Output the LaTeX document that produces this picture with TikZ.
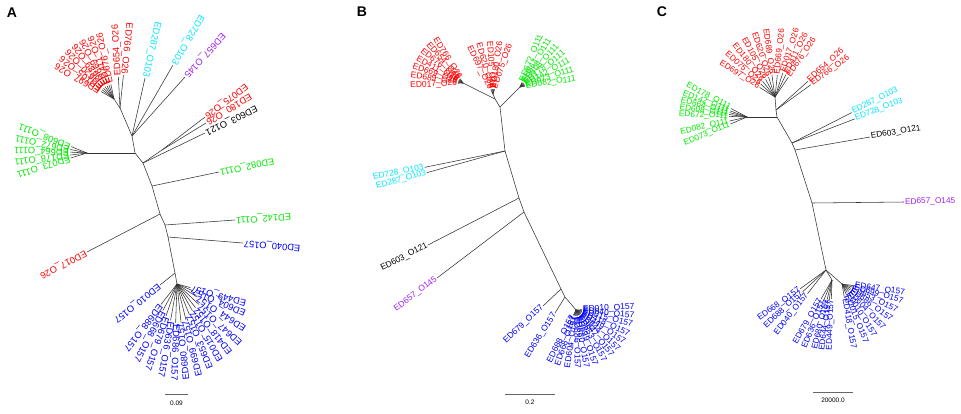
\documentclass[tikz,border=0pt]{standalone}
\usepackage{fontspec}
\setmainfont{Liberation Sans}
\usetikzlibrary{calc}
\definecolor{tred}{RGB}{255,0,0}
\definecolor{tgreen}{RGB}{0,235,0}
\definecolor{tblue}{RGB}{0,0,255}
\definecolor{tcyan}{RGB}{0,230,255}
\definecolor{tpurp}{RGB}{160,32,240}
\newif\ifinvlab
% #1 parent, #2 tip, #3 colour, #4 text
\newcommand\tiplab[4]{%
  \pgfpointdiff{\pgfpointanchor{#1}{center}}{\pgfpointanchor{#2}{center}}%
  \pgfgetlastxy{\tlX}{\tlY}%
  \pgfmathsetmacro\tlang{atan2(\tlY,\tlX)}%
  \pgfmathtruncatemacro\tlr{cos(\tlang)>0}%
  \ifinvlab\pgfmathtruncatemacro\tlr{1-\tlr}\fi
  \draw[br] (#1) -- (#2);
  \ifnum\tlr=1
    \node[lab,text=#3,anchor=west,rotate=\tlang] (L#2) at (#2) {#4};
  \else
    \node[lab,text=#3,anchor=east,rotate=\tlang+180] (L#2) at (#2) {#4};
  \fi}
% #1 parent, #2 tip name, #3 canvas angle, #4 length, #5 colour, #6 text
\newcommand\tipat[6]{%
  \coordinate (#2) at ($(#1)+({-1*(#3)}:#4)$);
  \tiplab{#1}{#2}{#5}{#6}}
\begin{document}
\begin{tikzpicture}[x=1pt,y=-1pt,
  br/.style={draw=black!80,line width=0.55pt},
  lab/.style={inner sep=0.8pt,font=\fontsize{9}{10}\selectfont},
  panel/.style={font=\fontsize{14}{16}\selectfont\bfseries,inner sep=0pt},
  sbar/.style={draw=black!60,line width=0.7pt},
  stxt/.style={font=\fontsize{6.5}{7}\selectfont,inner sep=0pt}]
\useasboundingbox[fill=white] (0,0) rectangle (961,413);

%================ Panel A ================
\invlabtrue
\tikzset{lab/.style={inner sep=0.9pt,font=\fontsize{9.3}{10}\selectfont}}
\node[panel] (pA) at (12,13) {A};
\coordinate (aR0) at (120,108);
\coordinate (aR1) at (114,99);
\coordinate (aB2) at (132,136);
\coordinate (aB3) at (135,153);
\coordinate (aB4) at (143,163);
\coordinate (aB5) at (152,186);
\coordinate (aB6) at (160,214);
\coordinate (aB7) at (165,225);
\coordinate (aB8) at (168,237);
\coordinate (aB9) at (175,273);
\coordinate (aB10) at (177,284);
\coordinate (aG0) at (87,153);
\coordinate (aS1) at (162,150);
\draw[br] (aR1)--(aR0)--(aB2)--(aB3)--(aB4)--(aB5)--(aB6)--(aB7)--(aB8)--(aB9)--(aB10);
\draw[br] (aB3)--(aG0);
\draw[br] (aB4)--(aS1);
\tipat{aR0}{a1}{84}{33}{tred}{ED766\_O26}
\tipat{aR0}{a2}{93}{31}{tred}{ED654\_O26}
\tipat{aR1}{a3}{102}{15}{tred}{ED676\_O26}
\tipat{aR1}{a4}{110}{15}{tred}{ED411\_O26}
\tipat{aR1}{a5}{118}{15}{tred}{ED669\_O26}
\tipat{aR1}{a6}{126}{15}{tred}{ED689\_O26}
\tipat{aR1}{a7}{134}{15}{tred}{ED620\_O26}
\tipat{aR1}{a8}{142}{15}{tred}{ED105\_O26}
\tipat{aR1}{a9}{150}{15}{tred}{ED697\_O26}
\coordinate (a10) at (145,78); \tiplab{aB2}{a10}{tcyan}{ED287\_O103}
\coordinate (a11) at (173,65); \tiplab{aB2}{a11}{tcyan}{ED728\_O103}
\coordinate (a12) at (185,77); \tiplab{aB2}{a12}{tpurp}{ED657\_O145}
\coordinate (a13) at (205,117); \tiplab{aS1}{a13}{tred}{ED075\_O26}
\coordinate (a14) at (206,123); \tiplab{aS1}{a14}{tred}{ED180\_O26}
\coordinate (a15) at (205,133); \tiplab{aB4}{a15}{black}{ED603\_O121}
\coordinate (a16) at (219,172); \tiplab{aB5}{a16}{tgreen}{ED082\_O111}
\tipat{aG0}{a17}{158}{17}{tgreen}{ED608\_O111}
\tipat{aG0}{a18}{168}{17}{tgreen}{ED672\_O111}
\tipat{aG0}{a19}{177}{17}{tgreen}{ED664\_O111}
\tipat{aG0}{a20}{187}{17}{tgreen}{ED178\_O111}
\tipat{aG0}{a21}{197}{17}{tgreen}{ED073\_O111}
\coordinate (a22) at (87,252); \tiplab{aB6}{a22}{tred}{ED017\_O26}
\coordinate (a23) at (235,220); \tiplab{aB7}{a23}{tgreen}{ED142\_O111}
\coordinate (a24) at (243,243); \tiplab{aB8}{a24}{tblue}{ED040\_O157}
\coordinate (a25) at (160,285); \tiplab{aB9}{a25}{tblue}{ED010\_O157}
\tipat{aB10}{a26}{-15}{14}{tblue}{ED449\_O157}
\tipat{aB10}{a27}{-23}{17}{tblue}{ED604\_O157}
\tipat{aB10}{a28}{-33}{24}{tblue}{ED644\_O157}
\tipat{aB10}{a29}{-43}{30}{tblue}{ED647\_O157}
\tipat{aB10}{a30}{-52}{30}{tblue}{ED418\_O157}
\tipat{aB10}{a31}{-60}{31}{tblue}{ED015\_O157}
\tipat{aB10}{a32}{-68}{33}{tblue}{ED653\_O157}
\tipat{aB10}{a33}{-76}{37}{tblue}{ED699\_O157}
\tipat{aB10}{a34}{-84}{39}{tblue}{ED680\_O157}
\tipat{aB10}{a35}{-92}{39}{tblue}{ED686\_O157}
\tipat{aB10}{a36}{-100}{37}{tblue}{ED636\_O157}
\tipat{aB10}{a37}{-109}{34}{tblue}{ED679\_O157}
\tipat{aB10}{a38}{-118}{30}{tblue}{ED668\_O157}
\tipat{aB10}{a39}{-128}{26}{tblue}{ED688\_O157}
\coordinate (aS0) at (165,394); \coordinate (aS2) at (188,394);
\draw[sbar] (aS0) -- (aS2);
\node[stxt] (aSt) at (176.5,403) {0.09};

%================ Panel B ================
\invlabfalse
\tikzset{lab/.style={inner sep=0.8pt,font=\fontsize{8.5}{9}\selectfont}}
\node[panel] (pB) at (362,12) {B};
\coordinate (bT) at (500,107);
\coordinate (bP) at (495,99);
\coordinate (bF1) at (463,83);
\coordinate (bF2) at (493,94);
\coordinate (bF3) at (520,87);
\coordinate (bC) at (505,151);
\coordinate (bD) at (519,198);
\coordinate (bE) at (524,212);
\coordinate (bF) at (561,289);
\coordinate (bG) at (565,297);
\coordinate (bH) at (576,310);
\draw[br] (bF1)--(bP)--(bT)--(bC)--(bD)--(bE)--(bF)--(bG)--(bH);
\draw[br] (bP)--(bF2);
\draw[br] (bT)--(bF3);
\tipat{bF1}{b1}{122}{5}{tred}{ED766\_O26}
\tipat{bF1}{b2}{132}{5}{tred}{ED654\_O26}
\tipat{bF1}{b3}{142}{5}{tred}{ED676\_O26}
\tipat{bF1}{b4}{152}{5}{tred}{ED411\_O26}
\tipat{bF1}{b5}{162}{5}{tred}{ED669\_O26}
\tipat{bF1}{b6}{172}{5}{tred}{ED689\_O26}
\tipat{bF1}{b7}{183}{5}{tred}{ED017\_O26}
\tipat{bF2}{b8}{71}{5}{tred}{ED075\_O26}
\tipat{bF2}{b9}{82}{5}{tred}{ED180\_O26}
\tipat{bF2}{b10}{94}{5}{tred}{ED105\_O26}
\tipat{bF2}{b11}{106}{5}{tred}{ED620\_O26}
\tipat{bF2}{b12}{117}{5}{tred}{ED697\_O26}
\tipat{bF3}{b13}{8}{5}{tgreen}{ED082\_O111}
\tipat{bF3}{b14}{18}{5}{tgreen}{ED073\_O111}
\tipat{bF3}{b15}{28}{5}{tgreen}{ED142\_O111}
\tipat{bF3}{b16}{38}{5}{tgreen}{ED178\_O111}
\tipat{bF3}{b17}{48}{5}{tgreen}{ED608\_O111}
\tipat{bF3}{b18}{58}{5}{tgreen}{ED664\_O111}
\tipat{bF3}{b19}{68}{5}{tgreen}{ED672\_O111}
\tipat{bC}{b20}{191.5}{82}{tcyan}{ED728\_O103}
\tipat{bC}{b21}{195.5}{81}{tcyan}{ED287\_O103}
\coordinate (b22) at (428,245); \tiplab{bD}{b22}{black}{ED603\_O121}
\coordinate (b23) at (437,278); \tiplab{bE}{b23}{tpurp}{ED657\_O145}
\coordinate (b24) at (543,306); \tiplab{bF}{b24}{tblue}{ED679\_O157}
\coordinate (b25) at (555,313); \tiplab{bG}{b25}{tblue}{ED636\_O157}
\tipat{bH}{b26}{3}{6}{tblue}{ED010\_O157}
\tipat{bH}{b27}{-6}{6}{tblue}{ED040\_O157}
\tipat{bH}{b28}{-15}{6}{tblue}{ED015\_O157}
\tipat{bH}{b29}{-25}{6}{tblue}{ED418\_O157}
\tipat{bH}{b30}{-34}{6}{tblue}{ED449\_O157}
\tipat{bH}{b31}{-43}{6}{tblue}{ED644\_O157}
\tipat{bH}{b32}{-52}{6}{tblue}{ED647\_O157}
\tipat{bH}{b33}{-61}{6}{tblue}{ED653\_O157}
\tipat{bH}{b34}{-71}{6}{tblue}{ED699\_O157}
\tipat{bH}{b35}{-80}{6}{tblue}{ED680\_O157}
\tipat{bH}{b36}{-89}{6}{tblue}{ED686\_O157}
\tipat{bH}{b37}{-98}{6}{tblue}{ED604\_O157}
\tipat{bH}{b38}{-108}{6}{tblue}{ED668\_O157}
\tipat{bH}{b39}{-117}{6}{tblue}{ED688\_O157}
\coordinate (bS0) at (505,394); \coordinate (bS2) at (555,394);
\draw[sbar] (bS0) -- (bS2);
\node[stxt] (bSt) at (530,402) {0.2};

%================ Panel C ================
\tikzset{lab/.style={inner sep=0.8pt,font=\fontsize{8.3}{9}\selectfont}}
\node[panel] (pC) at (662,12) {C};
\coordinate (cR) at (775,97);
\coordinate (cQ) at (776,110);
\coordinate (cM) at (777,117);
\coordinate (cGn) at (747,117);
\coordinate (cN) at (792,143);
\coordinate (cO) at (795,150);
\coordinate (cS) at (812,203);
\coordinate (cU) at (826,270);
\coordinate (cU2) at (832,280);
\coordinate (cU3) at (842,284);
\draw[br] (cR)--(cQ)--(cM)--(cN)--(cO)--(cS)--(cU)--(cU2);
\draw[br] (cM)--(cGn);
\draw[br] (cU)--(cU3);
\tipat{cR}{c1}{56}{24}{tred}{ED676\_O26}
\tipat{cR}{c2}{64}{25}{tred}{ED411\_O26}
\tipat{cR}{c3}{72}{25}{tred}{ED017\_O26}
\tipat{cR}{c4}{84}{22}{tred}{ED669\_O26}
\tipat{cR}{c5}{98}{22}{tred}{ED689\_O26}
\tipat{cR}{c6}{108}{21}{tred}{ED620\_O26}
\tipat{cR}{c7}{118}{20}{tred}{ED105\_O26}
\tipat{cR}{c8}{128}{20}{tred}{ED180\_O26}
\tipat{cR}{c9}{138}{19}{tred}{ED075\_O26}
\tipat{cR}{c10}{148}{18}{tred}{ED697\_O26}
\tipat{cQ}{c11}{42}{43}{tred}{ED654\_O26}
\tipat{cQ}{c12}{36}{43}{tred}{ED766\_O26}
\tipat{cGn}{c13}{152}{18}{tgreen}{ED178\_O111}
\tipat{cGn}{c14}{160}{18}{tgreen}{ED142\_O111}
\tipat{cGn}{c15}{166}{18}{tgreen}{ED664\_O111}
\tipat{cGn}{c16}{172}{18}{tgreen}{ED608\_O111}
\tipat{cGn}{c17}{178}{18}{tgreen}{ED672\_O111}
\tipat{cGn}{c18}{193}{18}{tgreen}{ED082\_O111}
\tipat{cGn}{c19}{203}{18}{tgreen}{ED073\_O111}
\tipat{cN}{c20}{27}{67}{tcyan}{ED287\_O103}
\tipat{cN}{c21}{21}{67}{tcyan}{ED728\_O103}
\coordinate (c22) at (870,137); \tiplab{cO}{c22}{black}{ED603\_O121}
\coordinate (c23) at (904,202); \tiplab{cS}{c23}{tpurp}{ED657\_O145}
\tipat{cU}{c24}{216}{32}{tblue}{ED668\_O157}
\tipat{cU}{c25}{223}{32}{tblue}{ED688\_O157}
\tipat{cU}{c26}{232}{30}{tblue}{ED040\_O157}
\tipat{cU2}{c27}{240}{22}{tblue}{ED679\_O157}
\tipat{cU2}{c28}{248}{22}{tblue}{ED636\_O157}
\tipat{cU2}{c29}{256}{20}{tblue}{ED680\_O157}
\tipat{cU2}{c30}{262}{20}{tblue}{ED644\_O157}
\tipat{cU2}{c31}{268}{19}{tblue}{ED449\_O157}
\tipat{cU3}{c32}{-8}{12}{tblue}{ED647\_O157}
\tipat{cU3}{c33}{-16}{12}{tblue}{ED699\_O157}
\tipat{cU3}{c34}{-26}{10}{tblue}{ED653\_O157}
\tipat{cU3}{c35}{-36}{10}{tblue}{ED686\_O157}
\tipat{cU3}{c36}{-47}{10}{tblue}{ED604\_O157}
\tipat{cU3}{c37}{-58}{10}{tblue}{ED010\_O157}
\tipat{cU3}{c38}{-68}{12}{tblue}{ED015\_O157}
\tipat{cU3}{c39}{-80}{14}{tblue}{ED418\_O157}
\coordinate (cS0) at (813,392); \coordinate (cS2) at (853,392);
\draw[sbar] (cS0) -- (cS2);
\node[stxt] (cSt) at (833,400) {20000.0};
\end{tikzpicture}
\end{document}
